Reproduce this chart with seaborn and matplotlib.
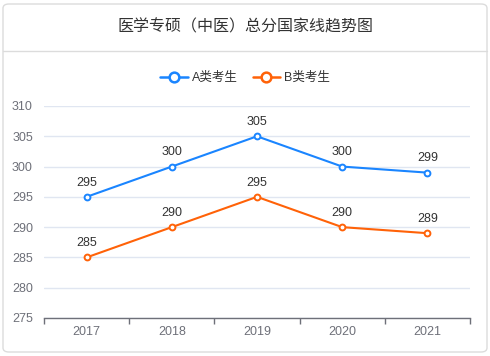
import matplotlib
matplotlib.use('Agg')
import matplotlib.pyplot as plt
import seaborn as sns
import pandas as pd
from matplotlib.patches import FancyBboxPatch
from matplotlib.lines import Line2D

years = ['2017', '2018', '2019', '2020', '2021']
a_scores = [295, 300, 305, 300, 299]
b_scores = [285, 290, 295, 290, 289]
series_names = ['A类考生', 'B类考生']
title = '医学专硕（中医）总分国家线趋势图'

sns.set_style('white')
plt.rcParams['font.family'] = ['Liberation Sans', 'Noto Sans CJK SC', 'DejaVu Sans']

df = pd.DataFrame({
    'year': years * 2,
    'score': a_scores + b_scores,
    'kind': [series_names[0]] * len(years) + [series_names[1]] * len(years),
})
df['x'] = list(range(len(years))) * 2

palette = {series_names[0]: '#1a85ff', series_names[1]: '#ff6208'}

W, H = 490, 356
fig = plt.figure(figsize=(W / 100, H / 100), dpi=100)

# card background + header separator (behind the axes)
card = FancyBboxPatch((3 / W, 4 / H), 484 / W, 348 / H,
                      boxstyle='round,pad=0,rounding_size=0.012',
                      transform=fig.transFigure, facecolor='white',
                      edgecolor='#dcdcdc', linewidth=1.0, zorder=-5)
fig.patches.append(card)
fig.add_artist(Line2D([3 / W, 487 / W], [1 - 51 / H, 1 - 51 / H],
                      transform=fig.transFigure, color='#dcdcdc', lw=1.0, zorder=-4))
fig.text(0.5, 1 - 27 / H, title, ha='center', va='center',
         fontsize=11.5, color='#333333')

ax = fig.add_axes([44 / W, 1 - 318 / H, 426 / W, 212 / H])
ax.set_facecolor('none')
ax.set_zorder(2)

sns.lineplot(data=df, x='x', y='score', hue='kind', palette=palette,
             marker='o', markersize=4.2, markerfacecolor='white',
             markeredgewidth=1.4, linewidth=1.5, ax=ax, legend=False)
for line in ax.lines:
    line.set_markeredgecolor(line.get_color())
    line.set_zorder(3)

for name, vals in zip(series_names, [a_scores, b_scores]):
    for i, v in enumerate(vals):
        ax.annotate(str(v), (i, v), xytext=(0, 6), textcoords='offset points',
                    ha='center', va='bottom', fontsize=9, color='#333333')

ax.set_xlim(-0.5, len(years) - 0.5)
ax.set_ylim(275, 310)
ax.set_yticks(range(275, 311, 5))
ax.set_xticks(range(len(years)))
ax.set_xticklabels(years)
ax.set_xticks([i - 0.5 for i in range(len(years) + 1)], minor=True)
ax.tick_params(axis='x', which='major', bottom=False, length=0, pad=6,
               labelsize=9, labelcolor='#6e7079')
ax.tick_params(axis='x', which='minor', bottom=True, length=4, width=1, color='#6e7079')
ax.tick_params(axis='y', length=0, pad=8, labelsize=9, labelcolor='#6e7079')
ax.grid(axis='y', color='#e0e6f1', linewidth=1)
ax.set_xlabel('')
ax.set_ylabel('')
for s in ['top', 'right', 'left']:
    ax.spines[s].set_visible(False)
ax.spines['bottom'].set_color('#6e7079')
ax.spines['bottom'].set_linewidth(1)

handles = [Line2D([], [], color=palette[n], marker='o', markersize=7,
                  markerfacecolor='white', markeredgewidth=1.8, lw=1.8)
           for n in series_names]
fig.legend(handles, series_names, loc='center', bbox_to_anchor=(0.5, 1 - 78 / H),
           ncol=2, frameon=False, fontsize=9, handlelength=2.2,
           handletextpad=0.3, columnspacing=1.2, labelcolor='#333333')

fig.savefig('out.png', dpi=100)
